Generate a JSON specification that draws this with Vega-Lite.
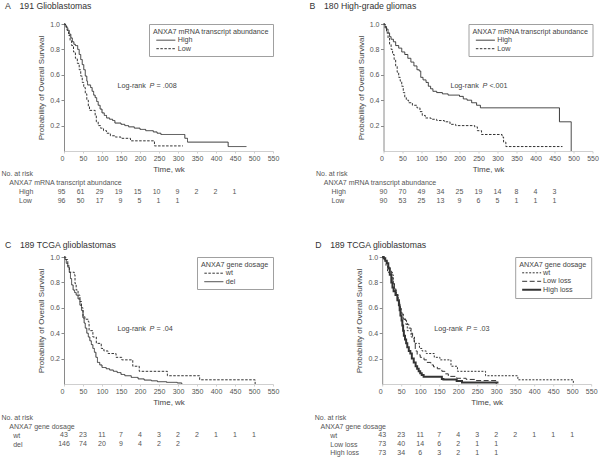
{
  "$schema": "https://vega.github.io/schema/vega-lite/v6.json",
  "padding": {"left": 1, "top": 2, "right": 2, "bottom": 1},
  "config": {
    "font": "Liberation Sans",
    "view": {"stroke": null},
    "axis": {"grid": false, "labelFont": "Liberation Sans", "titleFont": "Liberation Sans", "labelColor": "#555", "titleColor": "#444", "titleFontWeight": "normal", "labelFontSize": 7, "titleFontSize": 8},
    "axisX": {"domainColor": "#cfcfcf", "tickColor": "#cfcfcf", "tickSize": 2, "labelPadding": 1.5, "titlePadding": 4},
    "axisY": {"domainColor": "#8a8a8a", "tickColor": "#8a8a8a", "tickSize": 3, "labelPadding": 1.5, "titlePadding": 4},
    "title": {"fontSize": 8.7, "fontWeight": "normal", "color": "#333", "anchor": "start", "frame": "group", "offset": 9, "font": "Liberation Sans"},
    "text": {"font": "Liberation Sans"},
    "legend": {"titleFontSize": 7.2, "titleFontWeight": "normal", "titleColor": "#444", "labelFontSize": 7.2, "labelColor": "#444", "strokeColor": "#a0a0a0", "fillColor": "#ffffff", "padding": 4, "titlePadding": 1, "rowPadding": 0.5, "titleLimit": 300, "labelOffset": 16.7, "symbolStrokeColor": "#333", "symbolStrokeWidth": 1}
  },
  "datasets": {
    "A_km": [
      {"g":"High","t":0,"p":1},{"g":"High","t":3,"p":0.99},{"g":"High","t":6,"p":0.97},{"g":"High","t":10,"p":0.95},{"g":"High","t":14,"p":0.92},{"g":"High","t":18,"p":0.89},{"g":"High","t":22,"p":0.86},{"g":"High","t":26,"p":0.84},{"g":"High","t":30,"p":0.83},{"g":"High","t":36,"p":0.8},{"g":"High","t":40,"p":0.76},{"g":"High","t":44,"p":0.72},{"g":"High","t":48,"p":0.68},{"g":"High","t":52,"p":0.64},{"g":"High","t":56,"p":0.59},{"g":"High","t":60,"p":0.55},{"g":"High","t":62,"p":0.52},{"g":"High","t":70,"p":0.5},{"g":"High","t":74,"p":0.47},{"g":"High","t":78,"p":0.44},{"g":"High","t":82,"p":0.42},{"g":"High","t":86,"p":0.39},{"g":"High","t":90,"p":0.36},{"g":"High","t":95,"p":0.33},{"g":"High","t":100,"p":0.3},{"g":"High","t":106,"p":0.28},{"g":"High","t":112,"p":0.26},{"g":"High","t":120,"p":0.25},{"g":"High","t":128,"p":0.24},{"g":"High","t":134,"p":0.22},{"g":"High","t":150,"p":0.21},{"g":"High","t":160,"p":0.2},{"g":"High","t":170,"p":0.19},{"g":"High","t":185,"p":0.18},{"g":"High","t":200,"p":0.17},{"g":"High","t":215,"p":0.16},{"g":"High","t":235,"p":0.15},{"g":"High","t":245,"p":0.14},{"g":"High","t":255,"p":0.13},{"g":"High","t":318,"p":0.1},{"g":"High","t":325,"p":0.07},{"g":"High","t":432,"p":0.035},{"g":"High","t":480,"p":0.035},
      {"g":"Low","t":0,"p":1},{"g":"Low","t":4,"p":0.98},{"g":"Low","t":8,"p":0.95},{"g":"Low","t":12,"p":0.91},{"g":"Low","t":16,"p":0.87},{"g":"Low","t":20,"p":0.83},{"g":"Low","t":25,"p":0.78},{"g":"Low","t":30,"p":0.73},{"g":"Low","t":35,"p":0.69},{"g":"Low","t":40,"p":0.64},{"g":"Low","t":44,"p":0.59},{"g":"Low","t":48,"p":0.54},{"g":"Low","t":52,"p":0.5},{"g":"Low","t":56,"p":0.45},{"g":"Low","t":60,"p":0.4},{"g":"Low","t":64,"p":0.35},{"g":"Low","t":67,"p":0.32},{"g":"Low","t":82,"p":0.28},{"g":"Low","t":85,"p":0.23},{"g":"Low","t":90,"p":0.2},{"g":"Low","t":96,"p":0.18},{"g":"Low","t":104,"p":0.16},{"g":"Low","t":112,"p":0.14},{"g":"Low","t":122,"p":0.12},{"g":"Low","t":135,"p":0.11},{"g":"Low","t":150,"p":0.1},{"g":"Low","t":175,"p":0.08},{"g":"Low","t":238,"p":0.04},{"g":"Low","t":313,"p":0.04}
    ],
    "B_km": [
      {"g":"High","t":0,"p":1},{"g":"High","t":4,"p":0.98},{"g":"High","t":8,"p":0.96},{"g":"High","t":12,"p":0.93},{"g":"High","t":16,"p":0.9},{"g":"High","t":20,"p":0.88},{"g":"High","t":26,"p":0.86},{"g":"High","t":32,"p":0.83},{"g":"High","t":40,"p":0.81},{"g":"High","t":48,"p":0.78},{"g":"High","t":56,"p":0.76},{"g":"High","t":64,"p":0.73},{"g":"High","t":72,"p":0.7},{"g":"High","t":80,"p":0.67},{"g":"High","t":88,"p":0.64},{"g":"High","t":94,"p":0.63},{"g":"High","t":98,"p":0.58},{"g":"High","t":104,"p":0.56},{"g":"High","t":112,"p":0.54},{"g":"High","t":118,"p":0.51},{"g":"High","t":124,"p":0.49},{"g":"High","t":130,"p":0.47},{"g":"High","t":140,"p":0.46},{"g":"High","t":155,"p":0.45},{"g":"High","t":170,"p":0.44},{"g":"High","t":200,"p":0.43},{"g":"High","t":210,"p":0.41},{"g":"High","t":220,"p":0.4},{"g":"High","t":232,"p":0.38},{"g":"High","t":245,"p":0.36},{"g":"High","t":255,"p":0.34},{"g":"High","t":463,"p":0.23},{"g":"High","t":494,"p":0},
      {"g":"Low","t":0,"p":1},{"g":"Low","t":4,"p":0.97},{"g":"Low","t":8,"p":0.93},{"g":"Low","t":12,"p":0.89},{"g":"Low","t":16,"p":0.84},{"g":"Low","t":20,"p":0.8},{"g":"Low","t":24,"p":0.76},{"g":"Low","t":28,"p":0.72},{"g":"Low","t":32,"p":0.67},{"g":"Low","t":36,"p":0.62},{"g":"Low","t":40,"p":0.58},{"g":"Low","t":44,"p":0.55},{"g":"Low","t":48,"p":0.51},{"g":"Low","t":52,"p":0.46},{"g":"Low","t":56,"p":0.42},{"g":"Low","t":60,"p":0.4},{"g":"Low","t":66,"p":0.38},{"g":"Low","t":76,"p":0.36},{"g":"Low","t":88,"p":0.34},{"g":"Low","t":96,"p":0.31},{"g":"Low","t":102,"p":0.28},{"g":"Low","t":110,"p":0.26},{"g":"Low","t":125,"p":0.25},{"g":"Low","t":140,"p":0.24},{"g":"Low","t":160,"p":0.23},{"g":"Low","t":175,"p":0.21},{"g":"Low","t":190,"p":0.2},{"g":"Low","t":240,"p":0.19},{"g":"Low","t":247,"p":0.16},{"g":"Low","t":258,"p":0.13},{"g":"Low","t":312,"p":0.11},{"g":"Low","t":316,"p":0.07},{"g":"Low","t":322,"p":0.035},{"g":"Low","t":471,"p":0.035}
    ],
    "C_km": [
      {"g":"wt","t":0,"p":1},{"g":"wt","t":5,"p":0.98},{"g":"wt","t":10,"p":0.93},{"g":"wt","t":14,"p":0.88},{"g":"wt","t":27,"p":0.86},{"g":"wt","t":29,"p":0.79},{"g":"wt","t":32,"p":0.74},{"g":"wt","t":37,"p":0.7},{"g":"wt","t":42,"p":0.65},{"g":"wt","t":46,"p":0.6},{"g":"wt","t":50,"p":0.53},{"g":"wt","t":55,"p":0.51},{"g":"wt","t":64,"p":0.49},{"g":"wt","t":66,"p":0.42},{"g":"wt","t":76,"p":0.37},{"g":"wt","t":85,"p":0.32},{"g":"wt","t":98,"p":0.28},{"g":"wt","t":105,"p":0.26},{"g":"wt","t":116,"p":0.24},{"g":"wt","t":137,"p":0.21},{"g":"wt","t":152,"p":0.19},{"g":"wt","t":181,"p":0.14},{"g":"wt","t":198,"p":0.1},{"g":"wt","t":272,"p":0.065},{"g":"wt","t":357,"p":0.033},{"g":"wt","t":503,"p":0},
      {"g":"del","t":0,"p":1},{"g":"del","t":3,"p":0.98},{"g":"del","t":6,"p":0.95},{"g":"del","t":10,"p":0.92},{"g":"del","t":14,"p":0.88},{"g":"del","t":17,"p":0.83},{"g":"del","t":20,"p":0.78},{"g":"del","t":24,"p":0.74},{"g":"del","t":28,"p":0.72},{"g":"del","t":32,"p":0.7},{"g":"del","t":37,"p":0.67},{"g":"del","t":42,"p":0.62},{"g":"del","t":46,"p":0.58},{"g":"del","t":50,"p":0.52},{"g":"del","t":53,"p":0.48},{"g":"del","t":56,"p":0.44},{"g":"del","t":60,"p":0.4},{"g":"del","t":64,"p":0.37},{"g":"del","t":68,"p":0.34},{"g":"del","t":72,"p":0.31},{"g":"del","t":76,"p":0.28},{"g":"del","t":80,"p":0.25},{"g":"del","t":84,"p":0.21},{"g":"del","t":88,"p":0.17},{"g":"del","t":94,"p":0.15},{"g":"del","t":100,"p":0.13},{"g":"del","t":111,"p":0.12},{"g":"del","t":120,"p":0.11},{"g":"del","t":130,"p":0.1},{"g":"del","t":140,"p":0.09},{"g":"del","t":150,"p":0.075},{"g":"del","t":160,"p":0.065},{"g":"del","t":177,"p":0.052},{"g":"del","t":195,"p":0.04},{"g":"del","t":211,"p":0.031},{"g":"del","t":230,"p":0.025},{"g":"del","t":246,"p":0.018},{"g":"del","t":270,"p":0.013},{"g":"del","t":298,"p":0.008},{"g":"del","t":310,"p":0}
    ],
    "D_km": [
      {"g":"wt","t":0,"p":1},{"g":"wt","t":5,"p":0.98},{"g":"wt","t":10,"p":0.93},{"g":"wt","t":14,"p":0.88},{"g":"wt","t":27,"p":0.86},{"g":"wt","t":29,"p":0.79},{"g":"wt","t":32,"p":0.74},{"g":"wt","t":37,"p":0.7},{"g":"wt","t":42,"p":0.65},{"g":"wt","t":46,"p":0.6},{"g":"wt","t":50,"p":0.53},{"g":"wt","t":55,"p":0.51},{"g":"wt","t":64,"p":0.49},{"g":"wt","t":66,"p":0.42},{"g":"wt","t":76,"p":0.37},{"g":"wt","t":85,"p":0.32},{"g":"wt","t":98,"p":0.28},{"g":"wt","t":105,"p":0.26},{"g":"wt","t":116,"p":0.24},{"g":"wt","t":137,"p":0.21},{"g":"wt","t":152,"p":0.19},{"g":"wt","t":181,"p":0.14},{"g":"wt","t":198,"p":0.1},{"g":"wt","t":272,"p":0.065},{"g":"wt","t":357,"p":0.033},{"g":"wt","t":503,"p":0},
      {"g":"Low loss","t":0,"p":1},{"g":"Low loss","t":4,"p":0.99},{"g":"Low loss","t":8,"p":0.97},{"g":"Low loss","t":12,"p":0.95},{"g":"Low loss","t":16,"p":0.92},{"g":"Low loss","t":20,"p":0.89},{"g":"Low loss","t":24,"p":0.84},{"g":"Low loss","t":28,"p":0.79},{"g":"Low loss","t":32,"p":0.75},{"g":"Low loss","t":36,"p":0.71},{"g":"Low loss","t":40,"p":0.66},{"g":"Low loss","t":44,"p":0.62},{"g":"Low loss","t":48,"p":0.58},{"g":"Low loss","t":52,"p":0.55},{"g":"Low loss","t":56,"p":0.51},{"g":"Low loss","t":62,"p":0.47},{"g":"Low loss","t":70,"p":0.44},{"g":"Low loss","t":76,"p":0.4},{"g":"Low loss","t":80,"p":0.36},{"g":"Low loss","t":84,"p":0.33},{"g":"Low loss","t":87,"p":0.26},{"g":"Low loss","t":92,"p":0.23},{"g":"Low loss","t":100,"p":0.21},{"g":"Low loss","t":110,"p":0.19},{"g":"Low loss","t":118,"p":0.17},{"g":"Low loss","t":128,"p":0.15},{"g":"Low loss","t":135,"p":0.135},{"g":"Low loss","t":145,"p":0.12},{"g":"Low loss","t":157,"p":0.1},{"g":"Low loss","t":165,"p":0.08},{"g":"Low loss","t":174,"p":0.06},{"g":"Low loss","t":196,"p":0.045},{"g":"Low loss","t":221,"p":0.036},{"g":"Low loss","t":247,"p":0.027},{"g":"Low loss","t":300,"p":0},
      {"g":"High loss","t":0,"p":1},{"g":"High loss","t":4,"p":0.99},{"g":"High loss","t":8,"p":0.97},{"g":"High loss","t":12,"p":0.95},{"g":"High loss","t":16,"p":0.91},{"g":"High loss","t":20,"p":0.86},{"g":"High loss","t":24,"p":0.8},{"g":"High loss","t":27,"p":0.76},{"g":"High loss","t":30,"p":0.73},{"g":"High loss","t":35,"p":0.7},{"g":"High loss","t":40,"p":0.66},{"g":"High loss","t":44,"p":0.62},{"g":"High loss","t":46,"p":0.58},{"g":"High loss","t":48,"p":0.54},{"g":"High loss","t":51,"p":0.5},{"g":"High loss","t":53,"p":0.46},{"g":"High loss","t":55,"p":0.42},{"g":"High loss","t":57,"p":0.38},{"g":"High loss","t":60,"p":0.35},{"g":"High loss","t":63,"p":0.32},{"g":"High loss","t":66,"p":0.29},{"g":"High loss","t":70,"p":0.26},{"g":"High loss","t":74,"p":0.24},{"g":"High loss","t":78,"p":0.2},{"g":"High loss","t":83,"p":0.17},{"g":"High loss","t":88,"p":0.14},{"g":"High loss","t":92,"p":0.12},{"g":"High loss","t":96,"p":0.1},{"g":"High loss","t":100,"p":0.085},{"g":"High loss","t":104,"p":0.07},{"g":"High loss","t":109,"p":0.057},{"g":"High loss","t":157,"p":0.04},{"g":"High loss","t":161,"p":0.036},{"g":"High loss","t":196,"p":0.024},{"g":"High loss","t":210,"p":0.012},{"g":"High loss","t":306,"p":0.012}
    ],
    "A_risk": [
      {"row":"High","t":0,"n":95},{"row":"High","t":50,"n":61},{"row":"High","t":100,"n":29},{"row":"High","t":150,"n":19},{"row":"High","t":200,"n":15},{"row":"High","t":250,"n":10},{"row":"High","t":300,"n":9},{"row":"High","t":350,"n":2},{"row":"High","t":400,"n":2},{"row":"High","t":450,"n":1},
      {"row":"Low","t":0,"n":96},{"row":"Low","t":50,"n":50},{"row":"Low","t":100,"n":17},{"row":"Low","t":150,"n":9},{"row":"Low","t":200,"n":5},{"row":"Low","t":250,"n":1},{"row":"Low","t":300,"n":1}
    ],
    "B_risk": [
      {"row":"High","t":0,"n":90},{"row":"High","t":50,"n":70},{"row":"High","t":100,"n":49},{"row":"High","t":150,"n":34},{"row":"High","t":200,"n":25},{"row":"High","t":250,"n":19},{"row":"High","t":300,"n":14},{"row":"High","t":350,"n":8},{"row":"High","t":400,"n":4},{"row":"High","t":450,"n":3},
      {"row":"Low","t":0,"n":90},{"row":"Low","t":50,"n":53},{"row":"Low","t":100,"n":25},{"row":"Low","t":150,"n":13},{"row":"Low","t":200,"n":9},{"row":"Low","t":250,"n":6},{"row":"Low","t":300,"n":5},{"row":"Low","t":350,"n":1},{"row":"Low","t":400,"n":1},{"row":"Low","t":450,"n":1}
    ],
    "C_risk": [
      {"row":"wt","t":0,"n":43},{"row":"wt","t":50,"n":23},{"row":"wt","t":100,"n":11},{"row":"wt","t":150,"n":7},{"row":"wt","t":200,"n":4},{"row":"wt","t":250,"n":3},{"row":"wt","t":300,"n":2},{"row":"wt","t":350,"n":2},{"row":"wt","t":400,"n":1},{"row":"wt","t":450,"n":1},{"row":"wt","t":500,"n":1},
      {"row":"del","t":0,"n":146},{"row":"del","t":50,"n":74},{"row":"del","t":100,"n":20},{"row":"del","t":150,"n":9},{"row":"del","t":200,"n":4},{"row":"del","t":250,"n":2},{"row":"del","t":300,"n":2}
    ],
    "D_risk": [
      {"row":"wt","t":0,"n":43},{"row":"wt","t":50,"n":23},{"row":"wt","t":100,"n":11},{"row":"wt","t":150,"n":7},{"row":"wt","t":200,"n":4},{"row":"wt","t":250,"n":3},{"row":"wt","t":300,"n":2},{"row":"wt","t":350,"n":2},{"row":"wt","t":400,"n":1},{"row":"wt","t":450,"n":1},{"row":"wt","t":500,"n":1},
      {"row":"Low loss","t":0,"n":73},{"row":"Low loss","t":50,"n":40},{"row":"Low loss","t":100,"n":14},{"row":"Low loss","t":150,"n":6},{"row":"Low loss","t":200,"n":2},{"row":"Low loss","t":250,"n":1},{"row":"Low loss","t":300,"n":1},
      {"row":"High loss","t":0,"n":73},{"row":"High loss","t":50,"n":34},{"row":"High loss","t":100,"n":6},{"row":"High loss","t":150,"n":3},{"row":"High loss","t":200,"n":2},{"row":"High loss","t":250,"n":1},{"row":"High loss","t":300,"n":1}
    ]
  },
  "spacing": 35,
  "resolve": {"scale": {"strokeDash": "independent", "x": "independent", "y": "independent"}, "legend": {"strokeDash": "independent"}},
  "vconcat": [
    {
      "spacing": 30.5,
      "resolve": {"scale": {"strokeDash": "independent", "x": "independent", "y": "independent"}, "legend": {"strokeDash": "independent"}},
      "hconcat": [
        {
          "spacing": 17.35,
          "bounds": "flush",
          "resolve": {"scale": {"strokeDash": "independent", "x": "independent", "y": "independent"}, "legend": {"strokeDash": "independent"}},
          "vconcat": [
            {
              "width": 209, "height": 127,
              "title": {"text": "A\u2003191 Glioblastomas", "dx": -59},
              "layer": [
                {
                  "data": {"name": "A_km"},
                  "mark": {"type": "line", "interpolate": "step-after", "strokeWidth": 1, "color": "#333"},
                  "encoding": {
                    "x": {"field": "t", "type": "quantitative", "scale": {"domain": [0, 550], "nice": false}, "axis": {"title": "Time, wk", "values": [0,50,100,150,200,250,300,350,400,450,500,550], "tickCount": 12, "labelOverlap": false, "labelFlush": false, "labelAlign": {"condition": {"test": "datum.value === 0", "value": "right"}, "value": "center"}}},
                    "y": {"field": "p", "type": "quantitative", "scale": {"domain": [0, 1], "nice": false}, "axis": {"title": "Probability of Overall Survival", "values": [0.2,0.4,0.6,0.8,1], "tickCount": 5, "format": ".1f", "labelOverlap": false, "labelFlush": false}},
                    "strokeDash": {"field": "g", "type": "nominal", "scale": {"domain": ["High", "Low"], "range": [[1, 0], [2.5, 1.5]]}, "legend": {"title": "ANXA7 mRNA transcript abundance", "orient": "top-right", "offset": 0, "symbolType": "M -0.2 0 H 5.8", "symbolSize": 40}}
                  }
                },
                {"data": {"values": [{"t": 141, "p": 0.51}]}, "mark": {"type": "text", "align": "left", "baseline": "middle", "fontSize": 7.2, "color": "#444"}, "encoding": {"x": {"field": "t", "type": "quantitative"}, "y": {"field": "p", "type": "quantitative"}, "text": {"value": "Log-rank"}}},
                {"data": {"values": [{"t": 141, "p": 0.51}]}, "mark": {"type": "text", "align": "left", "baseline": "middle", "fontSize": 7.2, "color": "#444", "fontStyle": "italic", "dx": 32}, "encoding": {"x": {"field": "t", "type": "quantitative"}, "y": {"field": "p", "type": "quantitative"}, "text": {"value": "P"}}},
                {"data": {"values": [{"t": 141, "p": 0.51}]}, "mark": {"type": "text", "align": "left", "baseline": "middle", "fontSize": 7.2, "color": "#444", "dx": 39}, "encoding": {"x": {"field": "t", "type": "quantitative"}, "y": {"field": "p", "type": "quantitative"}, "text": {"value": "= .008"}}}
              ]
            },
            {
              "width": 209, "height": 37.2,
              "data": {"name": "A_risk"},
              "mark": {"type": "text", "align": "right", "dx": 1.5, "baseline": "middle", "fontSize": 7, "color": "#555"},
              "encoding": {
                "x": {"field": "t", "type": "quantitative", "scale": {"domain": [0, 550], "nice": false}, "axis": null},
                "y": {"field": "row", "type": "nominal", "scale": {"domain": ["No. at risk", "ANXA7 mRNA transcript abundance", "High", "Low"]}, "axis": {"title": null, "domain": false, "ticks": false, "labelAlign": "left", "labelPadding": 63, "labelOverlap": false, "labelColor": "#555", "labelFontSize": 7, "labelExpr": "datum.value === 'No. at risk' ? datum.value : (datum.value === 'High' || datum.value === 'Low') ? '\u200b\u00a0\u00a0\u00a0\u00a0\u00a0\u00a0\u00a0\u00a0\u00a0' + datum.value : '\u200b\u00a0\u00a0\u00a0\u00a0' + datum.value"}},
                "text": {"field": "n", "type": "quantitative"}
              }
            }
          ]
        },
        {
          "spacing": 17.35,
          "bounds": "flush",
          "resolve": {"scale": {"strokeDash": "independent", "x": "independent", "y": "independent"}, "legend": {"strokeDash": "independent"}},
          "vconcat": [
            {
              "width": 209, "height": 127,
              "title": {"text": "B\u2003180 High-grade gliomas", "dx": -74},
              "layer": [
                {
                  "data": {"name": "B_km"},
                  "mark": {"type": "line", "interpolate": "step-after", "strokeWidth": 1, "color": "#333"},
                  "encoding": {
                    "x": {"field": "t", "type": "quantitative", "scale": {"domain": [0, 550], "nice": false}, "axis": {"title": "Time, wk", "values": [0,50,100,150,200,250,300,350,400,450,500,550], "tickCount": 12, "labelOverlap": false, "labelFlush": false, "labelAlign": {"condition": {"test": "datum.value === 0", "value": "right"}, "value": "center"}}},
                    "y": {"field": "p", "type": "quantitative", "scale": {"domain": [0, 1], "nice": false}, "axis": {"title": "Probability of Overall Survival", "values": [0.2,0.4,0.6,0.8,1], "tickCount": 5, "format": ".1f", "labelOverlap": false, "labelFlush": false}},
                    "strokeDash": {"field": "g", "type": "nominal", "scale": {"domain": ["High", "Low"], "range": [[1, 0], [2.5, 1.5]]}, "legend": {"title": "ANXA7 mRNA transcript abundance", "orient": "top-right", "offset": 0, "symbolType": "M -0.2 0 H 5.8", "symbolSize": 40}}
                  }
                },
                {"data": {"values": [{"t": 176, "p": 0.51}]}, "mark": {"type": "text", "align": "left", "baseline": "middle", "fontSize": 7.2, "color": "#444"}, "encoding": {"x": {"field": "t", "type": "quantitative"}, "y": {"field": "p", "type": "quantitative"}, "text": {"value": "Log-rank"}}},
                {"data": {"values": [{"t": 176, "p": 0.51}]}, "mark": {"type": "text", "align": "left", "baseline": "middle", "fontSize": 7.2, "color": "#444", "fontStyle": "italic", "dx": 32}, "encoding": {"x": {"field": "t", "type": "quantitative"}, "y": {"field": "p", "type": "quantitative"}, "text": {"value": "P"}}},
                {"data": {"values": [{"t": 176, "p": 0.51}]}, "mark": {"type": "text", "align": "left", "baseline": "middle", "fontSize": 7.2, "color": "#444", "dx": 39}, "encoding": {"x": {"field": "t", "type": "quantitative"}, "y": {"field": "p", "type": "quantitative"}, "text": {"value": "<.001"}}}
              ]
            },
            {
              "width": 209, "height": 37.2,
              "data": {"name": "B_risk"},
              "mark": {"type": "text", "align": "center", "baseline": "middle", "fontSize": 7, "color": "#555"},
              "encoding": {
                "x": {"field": "t", "type": "quantitative", "scale": {"domain": [0, 550], "nice": false}, "axis": null},
                "y": {"field": "row", "type": "nominal", "scale": {"domain": ["No. at risk", "ANXA7 mRNA transcript abundance", "High", "Low"]}, "axis": {"title": null, "domain": false, "ticks": false, "labelAlign": "left", "labelPadding": 68, "labelOverlap": false, "labelColor": "#555", "labelFontSize": 7, "labelExpr": "datum.value === 'No. at risk' ? datum.value : (datum.value === 'High' || datum.value === 'Low') ? '\u200b\u00a0\u00a0\u00a0\u00a0\u00a0\u00a0\u00a0\u00a0' + datum.value : '\u200b\u00a0\u00a0\u00a0\u00a0' + datum.value"}},
                "text": {"field": "n", "type": "quantitative"}
              }
            }
          ]
        }
      ]
    },
    {
      "spacing": 35.2,
      "resolve": {"scale": {"strokeDash": "independent", "x": "independent", "y": "independent"}, "legend": {"strokeDash": "independent"}},
      "hconcat": [
        {
          "spacing": 29.3,
          "bounds": "flush",
          "resolve": {"scale": {"strokeDash": "independent", "x": "independent", "y": "independent"}, "legend": {"strokeDash": "independent"}},
          "vconcat": [
            {
              "width": 209, "height": 127,
              "title": {"text": "C\u2003189 TCGA glioblastomas", "dx": -59, "offset": 3},
              "layer": [
                {
                  "data": {"name": "C_km"},
                  "mark": {"type": "line", "interpolate": "step-after", "strokeWidth": 1, "color": "#333"},
                  "encoding": {
                    "x": {"field": "t", "type": "quantitative", "scale": {"domain": [0, 550], "nice": false}, "axis": {"title": "Time, wk", "values": [0,50,100,150,200,250,300,350,400,450,500,550], "tickCount": 12, "labelOverlap": false, "labelFlush": false, "labelAlign": {"condition": {"test": "datum.value === 0", "value": "right"}, "value": "center"}}},
                    "y": {"field": "p", "type": "quantitative", "scale": {"domain": [0, 1], "nice": false}, "axis": {"title": "Probability of Overall Survival", "values": [0.2,0.4,0.6,0.8,1], "tickCount": 5, "format": ".1f", "labelOverlap": false, "labelFlush": false}},
                    "strokeDash": {"field": "g", "type": "nominal", "scale": {"domain": ["wt", "del"], "range": [[2.5, 1.5], [1, 0]]}, "legend": {"title": "ANXA7 gene dosage", "orient": "top-right", "offset": 0, "symbolType": "M -0.2 0 H 5.8", "symbolSize": 40}}
                  }
                },
                {"data": {"values": [{"t": 141, "p": 0.43}]}, "mark": {"type": "text", "align": "left", "baseline": "middle", "fontSize": 7.2, "color": "#444"}, "encoding": {"x": {"field": "t", "type": "quantitative"}, "y": {"field": "p", "type": "quantitative"}, "text": {"value": "Log-rank"}}},
                {"data": {"values": [{"t": 141, "p": 0.43}]}, "mark": {"type": "text", "align": "left", "baseline": "middle", "fontSize": 7.2, "color": "#444", "fontStyle": "italic", "dx": 32}, "encoding": {"x": {"field": "t", "type": "quantitative"}, "y": {"field": "p", "type": "quantitative"}, "text": {"value": "P"}}},
                {"data": {"values": [{"t": 141, "p": 0.43}]}, "mark": {"type": "text", "align": "left", "baseline": "middle", "fontSize": 7.2, "color": "#444", "dx": 39}, "encoding": {"x": {"field": "t", "type": "quantitative"}, "y": {"field": "p", "type": "quantitative"}, "text": {"value": "= .04"}}}
              ]
            },
            {
              "width": 209, "height": 35.2,
              "data": {"name": "C_risk"},
              "mark": {"type": "text", "align": "center", "baseline": "middle", "fontSize": 7, "color": "#555"},
              "encoding": {
                "x": {"field": "t", "type": "quantitative", "scale": {"domain": [0, 550], "nice": false}, "axis": null},
                "y": {"field": "row", "type": "nominal", "scale": {"domain": ["No. at risk", "ANXA7 gene dosage", "wt", "del"]}, "axis": {"title": null, "domain": false, "ticks": false, "labelAlign": "left", "labelPadding": 63, "labelOverlap": false, "labelColor": "#555", "labelFontSize": 7, "labelExpr": "datum.value === 'No. at risk' ? datum.value : (datum.value === 'wt' || datum.value === 'del') ? '\u200b\u00a0\u00a0\u00a0\u00a0\u00a0\u00a0' + datum.value : '\u200b\u00a0\u00a0\u00a0\u00a0' + datum.value"}},
                "text": {"field": "n", "type": "quantitative"}
              }
            }
          ]
        },
        {
          "spacing": 29.3,
          "bounds": "flush",
          "resolve": {"scale": {"strokeDash": "independent", "x": "independent", "y": "independent"}, "legend": {"strokeDash": "independent"}},
          "vconcat": [
            {
              "width": 209, "height": 127,
              "title": {"text": "D\u2003189 TCGA glioblastomas", "dx": -67, "offset": 3},
              "layer": [
                {
                  "data": {"name": "D_km"},
                  "mark": {"type": "line", "interpolate": "step-after", "color": "#333"},
                  "encoding": {
                    "x": {"field": "t", "type": "quantitative", "scale": {"domain": [0, 550], "nice": false}, "axis": {"title": "Time, wk", "values": [0,50,100,150,200,250,300,350,400,450,500,550], "tickCount": 12, "labelOverlap": false, "labelFlush": false, "labelAlign": {"condition": {"test": "datum.value === 0", "value": "right"}, "value": "center"}}},
                    "y": {"field": "p", "type": "quantitative", "scale": {"domain": [0, 1], "nice": false}, "axis": {"title": "Probability of Overall Survival", "values": [0.2,0.4,0.6,0.8,1], "tickCount": 5, "format": ".1f", "labelOverlap": false, "labelFlush": false}},
                    "strokeDash": {"field": "g", "type": "nominal", "scale": {"domain": ["wt", "Low loss", "High loss"], "range": [[2, 1.5], [5, 2.5], [1, 0]]}, "legend": {"title": "ANXA7 gene dosage", "orient": "top-right", "offset": 0, "symbolType": "M -0.2 0 H 5.8", "symbolSize": 40, "encode": {"symbols": {"update": {"strokeWidth": {"signal": "datum.value === 'High loss' ? 2 : 1"}}}}}},
                    "strokeWidth": {"condition": {"test": "datum.g === 'High loss'", "value": 2}, "value": 1}
                  }
                },
                {"data": {"values": [{"t": 137, "p": 0.43}]}, "mark": {"type": "text", "align": "left", "baseline": "middle", "fontSize": 7.2, "color": "#444"}, "encoding": {"x": {"field": "t", "type": "quantitative"}, "y": {"field": "p", "type": "quantitative"}, "text": {"value": "Log-rank"}}},
                {"data": {"values": [{"t": 137, "p": 0.43}]}, "mark": {"type": "text", "align": "left", "baseline": "middle", "fontSize": 7.2, "color": "#444", "fontStyle": "italic", "dx": 32}, "encoding": {"x": {"field": "t", "type": "quantitative"}, "y": {"field": "p", "type": "quantitative"}, "text": {"value": "P"}}},
                {"data": {"values": [{"t": 137, "p": 0.43}]}, "mark": {"type": "text", "align": "left", "baseline": "middle", "fontSize": 7.2, "color": "#444", "dx": 39}, "encoding": {"x": {"field": "t", "type": "quantitative"}, "y": {"field": "p", "type": "quantitative"}, "text": {"value": "= .03"}}}
              ]
            },
            {
              "width": 209, "height": 44,
              "data": {"name": "D_risk"},
              "mark": {"type": "text", "align": "center", "baseline": "middle", "fontSize": 7, "color": "#555"},
              "encoding": {
                "x": {"field": "t", "type": "quantitative", "scale": {"domain": [0, 550], "nice": false}, "axis": null},
                "y": {"field": "row", "type": "nominal", "scale": {"domain": ["No. at risk", "ANXA7 gene dosage", "wt", "Low loss", "High loss"]}, "axis": {"title": null, "domain": false, "ticks": false, "labelAlign": "left", "labelPadding": 68, "labelOverlap": false, "labelColor": "#555", "labelFontSize": 7, "labelExpr": "datum.value === 'No. at risk' ? datum.value : datum.value === 'ANXA7 gene dosage' ? '\u200b\u00a0\u00a0\u00a0' + datum.value : '\u200b\u00a0\u00a0\u00a0\u00a0\u00a0\u00a0\u00a0\u00a0' + datum.value"}},
                "text": {"field": "n", "type": "quantitative"}
              }
            }
          ]
        }
      ]
    }
  ]
}
